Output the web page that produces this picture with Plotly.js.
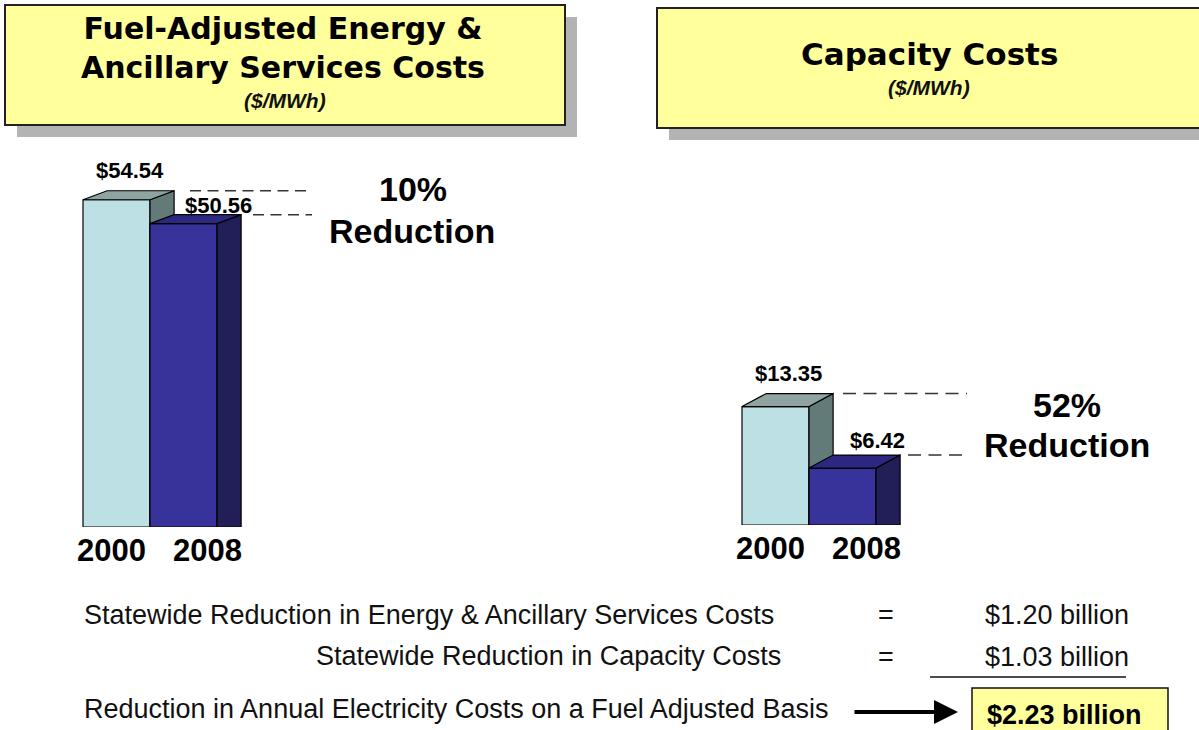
<!DOCTYPE html>
<html>
<head>
<meta charset="utf-8">
<script src="https://cdn.plot.ly/plotly-3.0.1.min.js"></script>
<style>html,body{margin:0;padding:0;background:#fff;}#chart{width:1199px;height:730px;}</style>
</head>
<body>
<div id="chart"></div>
<script>
// ---------------- DATA ----------------
const years = ['2000', '2008'];
const energyCosts = [54.54, 50.56];      // Fuel-adjusted energy & ancillary services ($/MWh)
const capacityCosts = [13.35, 6.42];     // Capacity costs ($/MWh)
const reductionPct = ['10%', '52%'];
const panelTitles = ['Fuel-Adjusted Energy &amp;<br>Ancillary Services Costs', 'Capacity Costs'];
const unitLabel = '($/MWh)';
const summaryLabels = [
  'Statewide Reduction in Energy &amp; Ancillary Services Costs',
  'Statewide Reduction in Capacity Costs',
  'Reduction in Annual Electricity Costs on a Fuel Adjusted Basis'
];
const summaryValues = ['$1.20 billion', '$1.03 billion'];
const totalValue = '$2.23 billion';

// ---------------- STYLE / GEOMETRY ----------------
const W = 1199, H = 730;
const px = x => x / W;
const py = y => 1 - y / H;
const FONT = 'Liberation Sans, Arial, Helvetica, sans-serif';
const TITLE_FONT = 'DejaVu Sans, Liberation Sans, Arial, sans-serif';
const frontColors = ['#bde0e4', '#38339a'];
const sideColors = ['#627a78', '#221e58'];
const topColors = ['#8fa3a1', '#2c2882'];
const DEPTH = 0.36;                 // depth of 3D faces in category units
const labelOffsets = [0.2, 0.52];   // value label x offset from bar centre
const yearOffsets = [-0.07, 0.36];  // year label x offset from bar centre

const panels = [
  { values: energyCosts, pct: reductionPct[0], title: panelTitles[0], titleSize: 30,
    barLeft: 83, barW: 67, baseline: 527, k: 6.0, dyPx: 9, dom: [0.05, 0.45],
    axA: ['x', 'y'], axB: ['x2', 'y2'], labelShifts: [6, -5],
    dashStarts: [190, 253], dashEnd: 312, dash: '11px,6.5px',
    pctPos: [413, 189], redPos: [412, 231],
    titlePos: [283, 48], unitPos: [285, 101] },
  { values: capacityCosts, pct: reductionPct[1], title: panelTitles[1], titleSize: 31,
    barLeft: 742, barW: 67, baseline: 525, k: 8.87, dyPx: 13, dom: [0.55, 0.95],
    axA: ['x3', 'y3'], axB: ['x4', 'y4'], labelShifts: [6, 0],
    dashStarts: [843, 908], dashEnd: 967, dash: '13px,7.5px',
    pctPos: [1067, 405], redPos: [1067, 445],
    titlePos: [929, 54], unitPos: [929, 88] }
];

const data = [];
const layout = {
  width: W, height: H,
  margin: { l: 0, r: 0, t: 0, b: 0 },
  paper_bgcolor: '#ffffff', plot_bgcolor: 'rgba(0,0,0,0)',
  showlegend: false,
  font: { family: FONT, color: '#000' },
  shapes: [], annotations: []
};

function axName(id, kind) { return id.length > 1 ? kind + 'axis' + id.slice(1) : kind + 'axis'; }

panels.forEach((p, pi) => {
  const domPx = (p.dom[1] - p.dom[0]) * W;
  const x0 = -0.5 - (p.barLeft - p.dom[0] * W) / p.barW;
  const xRange = [x0, x0 + domPx / p.barW];
  const yDom = [py(p.baseline), 0.9];
  const yRange = [0, (yDom[1] - yDom[0]) * H / p.k];
  const dyu = p.dyPx / p.k;
  const toX = pix => (pix - p.barLeft) / p.barW - 0.5;

  // axes: A base, B overlaying A
  layout[axName(p.axA[0], 'x')] = { domain: p.dom, range: xRange, visible: false, fixedrange: true, anchor: p.axA[1] };
  layout[axName(p.axA[1], 'y')] = { domain: yDom, range: yRange, visible: false, fixedrange: true, anchor: p.axA[0] };
  layout[axName(p.axB[0], 'x')] = { overlaying: p.axA[0], range: xRange, visible: false, fixedrange: true, anchor: p.axB[1] };
  layout[axName(p.axB[1], 'y')] = { overlaying: p.axA[1], range: yRange, visible: false, fixedrange: true, anchor: p.axB[0] };

  p.values.forEach((v, i) => {
    const ax = i === 0 ? p.axA : p.axB;
    // front face (bar)
    data.push({ type: 'bar', x: [i], y: [v], width: 1, xaxis: ax[0], yaxis: ax[1],
      marker: { color: frontColors[i], line: { color: '#000', width: 1.2 } },
      hoverinfo: 'skip', showlegend: false });
    const xr = i + 0.5, xl = i - 0.5;
    // side face
    data.push({ type: 'scatter', mode: 'lines', fill: 'toself', xaxis: ax[0], yaxis: ax[1],
      x: [xr, xr, xr + DEPTH, xr + DEPTH, xr], y: [0, v, v + dyu, 0, 0],
      fillcolor: sideColors[i], line: { color: '#000', width: 1.2 }, hoverinfo: 'skip', showlegend: false });
    // top face
    data.push({ type: 'scatter', mode: 'lines', fill: 'toself', xaxis: ax[0], yaxis: ax[1],
      x: [xl, xr, xr + DEPTH, xl + DEPTH, xl], y: [v, v, v + dyu, v + dyu, v],
      fillcolor: topColors[i], line: { color: '#000', width: 1.2 }, hoverinfo: 'skip', showlegend: false });
    // value label
    layout.annotations.push({ xref: ax[0], yref: ax[1], x: i + labelOffsets[i], y: v + dyu,
      text: '<b>$' + v.toFixed(2) + '</b>', showarrow: false, xanchor: 'center', yanchor: 'bottom', yshift: p.labelShifts[i],
      font: { family: FONT, size: 22, color: '#000' } });
    // year label
    layout.annotations.push({ xref: ax[0], yref: ax[1], x: i + yearOffsets[i], y: 0,
      text: '<b>' + years[i] + '</b>', showarrow: false, xanchor: 'center', yanchor: 'top', yshift: -4,
      font: { family: FONT, size: 31, color: '#000' } });
    // dashed guide line
    data.push({ type: 'scatter', mode: 'lines', xaxis: p.axB[0], yaxis: p.axB[1],
      x: [toX(p.dashStarts[i]), toX(p.dashEnd)], y: [v + dyu, v + dyu],
      line: { color: '#333', width: 1.5, dash: p.dash }, hoverinfo: 'skip', showlegend: false });
  });

  // reduction text
  layout.annotations.push({ xref: 'paper', yref: 'paper', x: px(p.pctPos[0]), y: py(p.pctPos[1]),
    text: '<b>' + p.pct + '</b>', showarrow: false, xanchor: 'center', yanchor: 'middle',
    font: { family: FONT, size: 34, color: '#000' } });
  layout.annotations.push({ xref: 'paper', yref: 'paper', x: px(p.redPos[0]), y: py(p.redPos[1]),
    text: '<b>Reduction</b>', showarrow: false, xanchor: 'center', yanchor: 'middle',
    font: { family: FONT, size: 34, color: '#000' } });

  // title text
  layout.annotations.push({ xref: 'paper', yref: 'paper', x: px(p.titlePos[0]), y: py(p.titlePos[1]),
    text: '<b>' + p.title + '</b>', showarrow: false, xanchor: 'center', yanchor: 'middle',
    font: { family: TITLE_FONT, size: p.titleSize, color: '#000' } });
  layout.annotations.push({ xref: 'paper', yref: 'paper', x: px(p.unitPos[0]), y: py(p.unitPos[1]),
    text: '<b><i>' + unitLabel + '</i></b>', showarrow: false, xanchor: 'center', yanchor: 'middle',
    font: { family: FONT, size: 21, color: '#111' } });
});

// title boxes (shadow + box)
function rectPx(x0, y0, x1, y1, fill, line) {
  return { type: 'rect', xref: 'paper', yref: 'paper', x0: px(x0), x1: px(x1), y0: py(y1), y1: py(y0),
    fillcolor: fill, line: line || { width: 0 }, layer: 'below' };
}
layout.shapes.push(rectPx(17, 17, 577, 137, '#b3b3b3'));
layout.shapes.push(rectPx(5, 5, 565, 125, '#ffff9c', { color: '#222', width: 2 }));
layout.shapes.push(rectPx(669, 20, 1215, 140, '#b3b3b3'));
layout.shapes.push(rectPx(657, 8, 1210, 128, '#ffff9c', { color: '#222', width: 2 }));

// summary block
const sumFont = { family: FONT, size: 27, color: '#111' };
layout.annotations.push({ xref: 'paper', yref: 'paper', x: px(82), y: py(615), text: summaryLabels[0],
  showarrow: false, xanchor: 'left', yanchor: 'middle', font: sumFont });
layout.annotations.push({ xref: 'paper', yref: 'paper', x: px(783), y: py(656), text: summaryLabels[1],
  showarrow: false, xanchor: 'right', yanchor: 'middle', font: sumFont });
layout.annotations.push({ xref: 'paper', yref: 'paper', x: px(82), y: py(709), text: summaryLabels[2],
  showarrow: false, xanchor: 'left', yanchor: 'middle', font: sumFont });
[615, 657].forEach((yy, i) => {
  layout.annotations.push({ xref: 'paper', yref: 'paper', x: px(886), y: py(yy), text: '=',
    showarrow: false, xanchor: 'center', yanchor: 'middle', font: sumFont });
  layout.annotations.push({ xref: 'paper', yref: 'paper', x: px(1131), y: py(yy), text: summaryValues[i],
    showarrow: false, xanchor: 'right', yanchor: 'middle', font: sumFont });
});
// underline
layout.shapes.push({ type: 'line', xref: 'paper', yref: 'paper', x0: px(930), x1: px(1126), y0: py(677), y1: py(677),
  line: { color: '#111', width: 1.5 } });
// total box
layout.shapes.push({ type: 'rect', xref: 'paper', yref: 'paper', x0: px(972), x1: px(1168), y0: py(740), y1: py(688),
  fillcolor: '#ffff9c', line: { color: '#111', width: 1.5 } });
layout.annotations.push({ xref: 'paper', yref: 'paper', x: px(1064), y: py(715), text: '<b>' + totalValue + '</b>',
  showarrow: false, xanchor: 'center', yanchor: 'middle', font: { family: FONT, size: 27, color: '#000' } });
// arrow
layout.annotations.push({ xref: 'paper', yref: 'paper', x: px(958), y: py(712), ax: -105, ay: 0, text: '',
  showarrow: true, arrowhead: 2, arrowsize: 1.2, arrowwidth: 4, arrowcolor: '#000', standoff: 0 });

Plotly.newPlot('chart', data, layout, { staticPlot: true, displayModeBar: false });
</script>
</body>
</html>
